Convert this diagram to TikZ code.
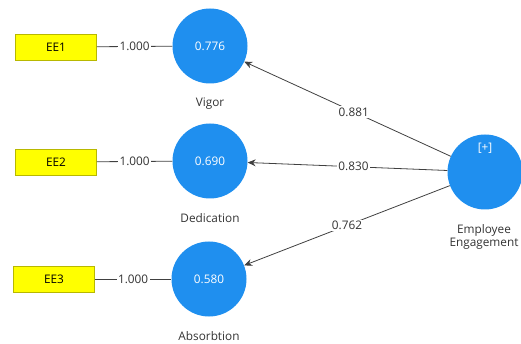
\documentclass[tikz,border=0pt]{standalone}
\usepackage{fontspec}
\setmainfont{Open Sans}
\usetikzlibrary{arrows.meta}
\definecolor{lvblue}{HTML}{1F8FEF}
\definecolor{indyellow}{HTML}{FFFF00}
\definecolor{indborder}{HTML}{B8B800}
\definecolor{pathgray}{HTML}{404040}
\begin{document}
\begin{tikzpicture}[x=1pt,y=-1pt,
  font=\fontsize{11.8}{14}\selectfont,
  latent/.style={circle,fill=lvblue,minimum size=75pt,inner sep=0pt,text=white},
  indicator/.style={rectangle,fill=indyellow,draw=indborder,line width=0.8pt,minimum width=81pt,minimum height=26pt,inner sep=0pt},
  caption/.style={text=black!80,align=center,inner sep=0pt},
  loading/.style={draw=pathgray,line width=0.8pt},
  path/.style={draw=pathgray,line width=0.8pt,-{Stealth[length=8pt,width=7pt]}},
  coef/.style={fill=white,inner sep=1.5pt,text=black!80}]
\useasboundingbox (0,0) rectangle (521,344);

% latent variables
\node[latent] (vig) at (210,46) {0.776};
\node[latent] (ded) at (210,161) {0.690};
\node[latent] (abs) at (209,279) {0.580};
\node[latent] (eng) at (485,172) {};
\node[text=white,inner sep=0pt] (engtag) at (485,148) {[+]};

% captions
\node[caption] (vigl) at (210,104) {Vigor};
\node[caption] (dedl) at (210,218) {Dedication};
\node[caption] (absl) at (209,336) {Absorbtion};
\node[caption,align=center] (engl) at (484,237) {Employee\\[-1pt]Engagement};

% indicators
\node[indicator] (ee1) at (56,47) {EE1};
\node[indicator] (ee2) at (56,162) {EE2};
\node[indicator] (ee3) at (54,279) {EE3};

% outer loadings
\draw[loading] (ee1) -- node[coef] {1.000} (vig);
\draw[loading] (ee2) -- node[coef] {1.000} (ded);
\draw[loading] (ee3) -- node[coef] {1.000} (abs);

% path coefficients
\draw[path] (eng) -- node[coef,pos=0.47] {0.881} (vig);
\draw[path] (eng) -- node[coef,pos=0.47] {0.830} (ded);
\draw[path] (eng) -- node[coef,pos=0.5] {0.762} (abs);
\end{tikzpicture}
\end{document}
